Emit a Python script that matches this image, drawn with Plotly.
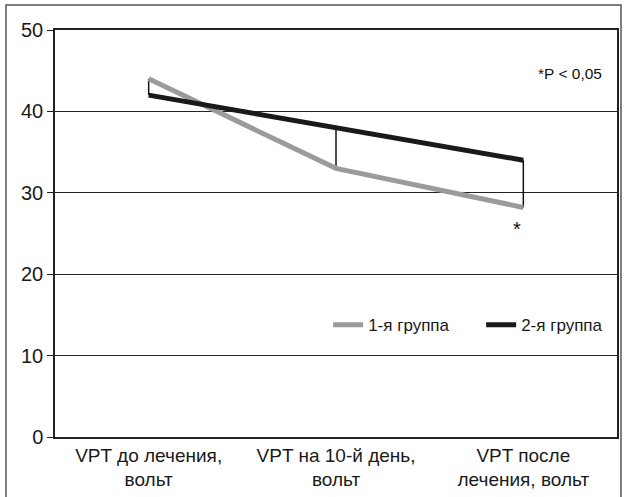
import plotly.graph_objects as go

categories = ["VPT до лечения,<br>вольт", "VPT на 10-й день,<br>вольт", "VPT после<br>лечения, вольт"]
group1 = [44.0, 33.0, 28.2]
group2 = [42.0, 38.0, 34.0]
series_names = ["1-я группа", "2-я группа"]
y_ticks = [0, 10, 20, 30, 40, 50]

xs = list(range(len(categories)))
FONT = "Liberation Sans, Arial, sans-serif"

fig = go.Figure()

# vertical connectors between the groups
for i in xs:
    fig.add_trace(go.Scatter(x=[i, i], y=[group1[i], group2[i]], mode="lines",
                             line=dict(color="#111111", width=1.5),
                             showlegend=False, hoverinfo="skip"))

fig.add_trace(go.Scatter(x=xs, y=group1, mode="lines", name=series_names[0],
                         line=dict(color="#9b9b9b", width=5)))
fig.add_trace(go.Scatter(x=xs, y=group2, mode="lines", name=series_names[1],
                         line=dict(color="#1a1a1a", width=5)))

fig.add_annotation(x=0.916, xref="paper", xanchor="center", y=44.6, yref="y", text="*P < 0,05",
                   showarrow=False, font=dict(family=FONT, size=15.5, color="#111"))
fig.add_annotation(x=xs[2], xref="x", y=group1[2], yref="y", yshift=-22, xshift=-6,
                   text="*", showarrow=False, font=dict(family=FONT, size=20, color="#111"))

# outer border
fig.add_shape(type="rect", xref="paper", yref="paper", x0=-0.0872, x1=1.0071, y0=-0.25, y1=1.0614,
              line=dict(color="#555555", width=1.5), layer="below")

fig.update_layout(
    width=626, height=497,
    margin=dict(l=55, r=9, t=30, b=60, autoexpand=False),
    paper_bgcolor="white", plot_bgcolor="white",
    font=dict(family=FONT, color="#1a1a1a"),
    xaxis=dict(range=[-0.5, 2.5], tickvals=xs, ticktext=categories, showgrid=False,
               zeroline=False, showline=True, linecolor="#222", linewidth=1.5, mirror=True,
               ticks="", tickfont=dict(size=19, family=FONT, color="#1a1a1a")),
    yaxis=dict(range=[0, 50], tickvals=y_ticks, showgrid=True, gridcolor="#222", gridwidth=1,
               zeroline=False, showline=True, linecolor="#222", linewidth=1.5, mirror=True,
               ticks="outside", ticklen=6, tickcolor="#222",
               tickfont=dict(size=20, family=FONT, color="#1a1a1a")),
    legend=dict(orientation="h", x=0.486, y=0.275, xanchor="left", yanchor="middle",
                bgcolor="rgba(0,0,0,0)", font=dict(size=17, family=FONT, color="#1a1a1a"),
                entrywidth=108, entrywidthmode="pixels"),
    showlegend=True,
)

fig.write_html("out.html", config={"displayModeBar": False},
               post_script="document.body.style.margin='0';")
